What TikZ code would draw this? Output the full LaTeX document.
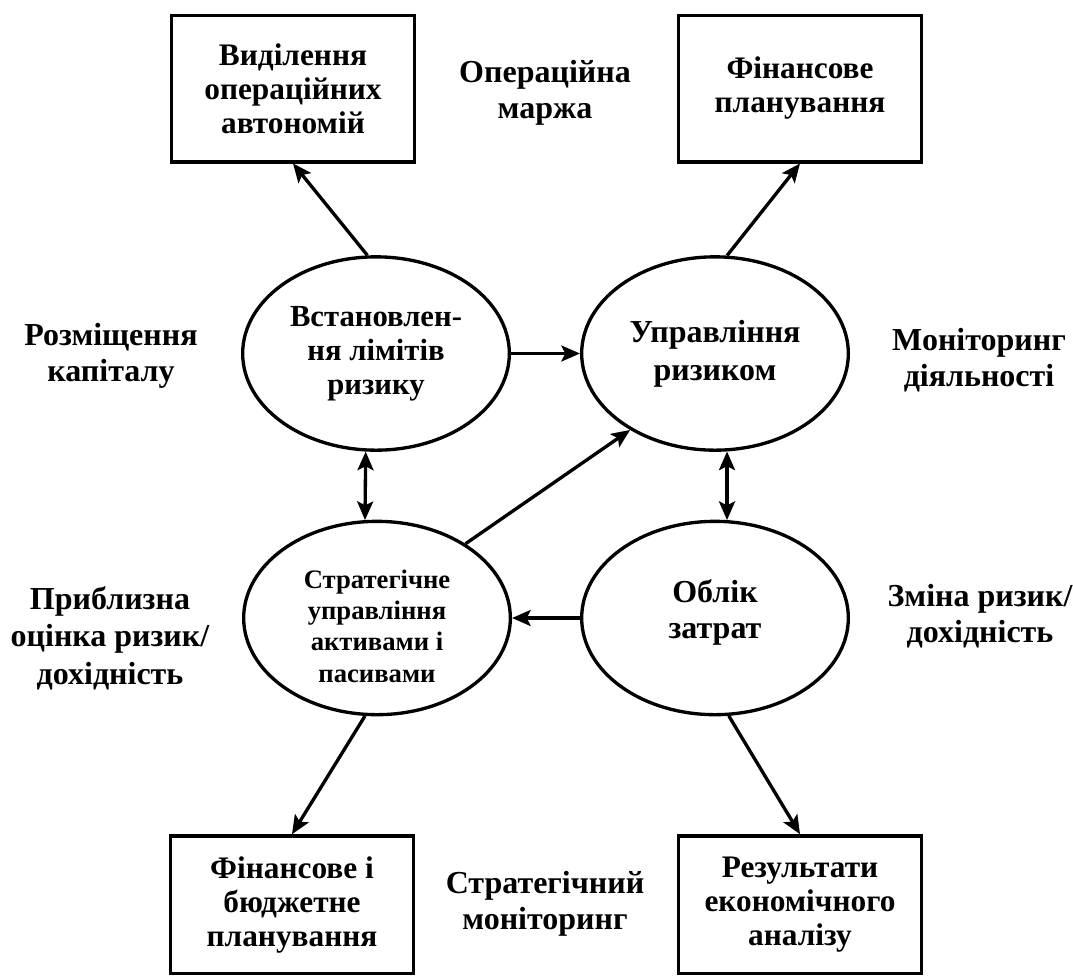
\documentclass[tikz,border=0pt]{standalone}
\usepackage{fontspec}
\setmainfont{Liberation Serif}
\usepackage{tikz}
\usetikzlibrary{shapes,arrows.meta,calc,positioning}

\begin{document}
\begin{tikzpicture}[x=0.75pt, y=-0.75pt,
  blockbox/.style={rectangle, draw, line width=2.5pt, minimum width=182pt, minimum height=110pt, align=center, font=\fontsize{23.5}{25.5}\selectfont\bfseries},
  ovalbox/.style={ellipse, draw, line width=2.5pt, minimum width=200pt, minimum height=145pt, inner sep=0pt, align=center, font=\fontsize{24}{27}\selectfont\bfseries},
  sidelabel/.style={align=center, font=\fontsize{24}{27}\selectfont\bfseries},
  arrow/.style={-{Stealth[length=14pt, width=12pt, inset=3pt]}, line width=2.5pt},
  dblarrow/.style={{Stealth[length=14pt, width=12pt, inset=3pt]}-{Stealth[length=14pt, width=12pt, inset=3pt]}, line width=2.5pt}
]
\useasboundingbox (0,0) rectangle (1073,976);

% Top boxes
\node[blockbox] (vydil) at (293, 88.5) {Виділення\\операційних\\автономій};
\node[blockbox] (finplan) at (800, 88.5) {Фінансове\\планування};
\node[sidelabel] (opmarg) at (545, 93) {Операційна\\маржа};

% Ellipses
\node[ovalbox, font=\fontsize{23}{25.5}\selectfont\bfseries] (limits) at (376, 353.5) {Встановлен-\\ня лімітів\\ризику};
\node[ovalbox, font=\fontsize{24}{28.5}\selectfont\bfseries] (riskmgmt) at (715, 353.5) {Управління\\ризиком};
\node[ovalbox, font=\fontsize{20}{23.5}\selectfont\bfseries] (strat) at (377, 618) {\rule{0pt}{26pt}Стратегічне\\управління\\активами і\\пасивами};
\node[ovalbox] (oblik) at (715, 618) {Облік\\затрат\\[-14pt]};

% Side labels
\node[sidelabel] (rozm) at (111, 356) {Розміщення\\капіталу};
\node[sidelabel] (monit) at (979, 360) {Моніторинг\\діяльності};
\node[sidelabel, font=\fontsize{24}{28}\selectfont\bfseries] (pryb) at (110, 638) {Приблизна\\оцінка ризик/\\дохідність};
\node[sidelabel] (zmina) at (980, 616) {Зміна ризик/\\дохідність};

% Bottom boxes
\node[blockbox, minimum height=103pt] (finbud) at (292, 904.5) {Фінансове і\\бюджетне\\планування};
\node[blockbox, minimum height=103pt] (results) at (800, 904.5) {Результати\\економічного\\аналізу};
\node[sidelabel] (stratmon) at (545, 904) {Стратегічний\\моніторинг};

% Connections
\draw[arrow] (limits.95) -- (vydil.south);
\draw[arrow] (riskmgmt.83) -- (finplan.south);
\draw[arrow] (limits.east) -- (riskmgmt.west);
\draw[dblarrow] (limits.264) -- (strat.97);
\draw[dblarrow] (riskmgmt.277) -- (oblik.83);
\draw[arrow] (strat.40) -- (riskmgmt.222);
\draw[arrow] (oblik.west) -- (strat.east);
\draw[arrow] (strat.263) -- (finbud.north);
\draw[arrow] (oblik.278) -- (results.north);

\end{tikzpicture}
\end{document}
